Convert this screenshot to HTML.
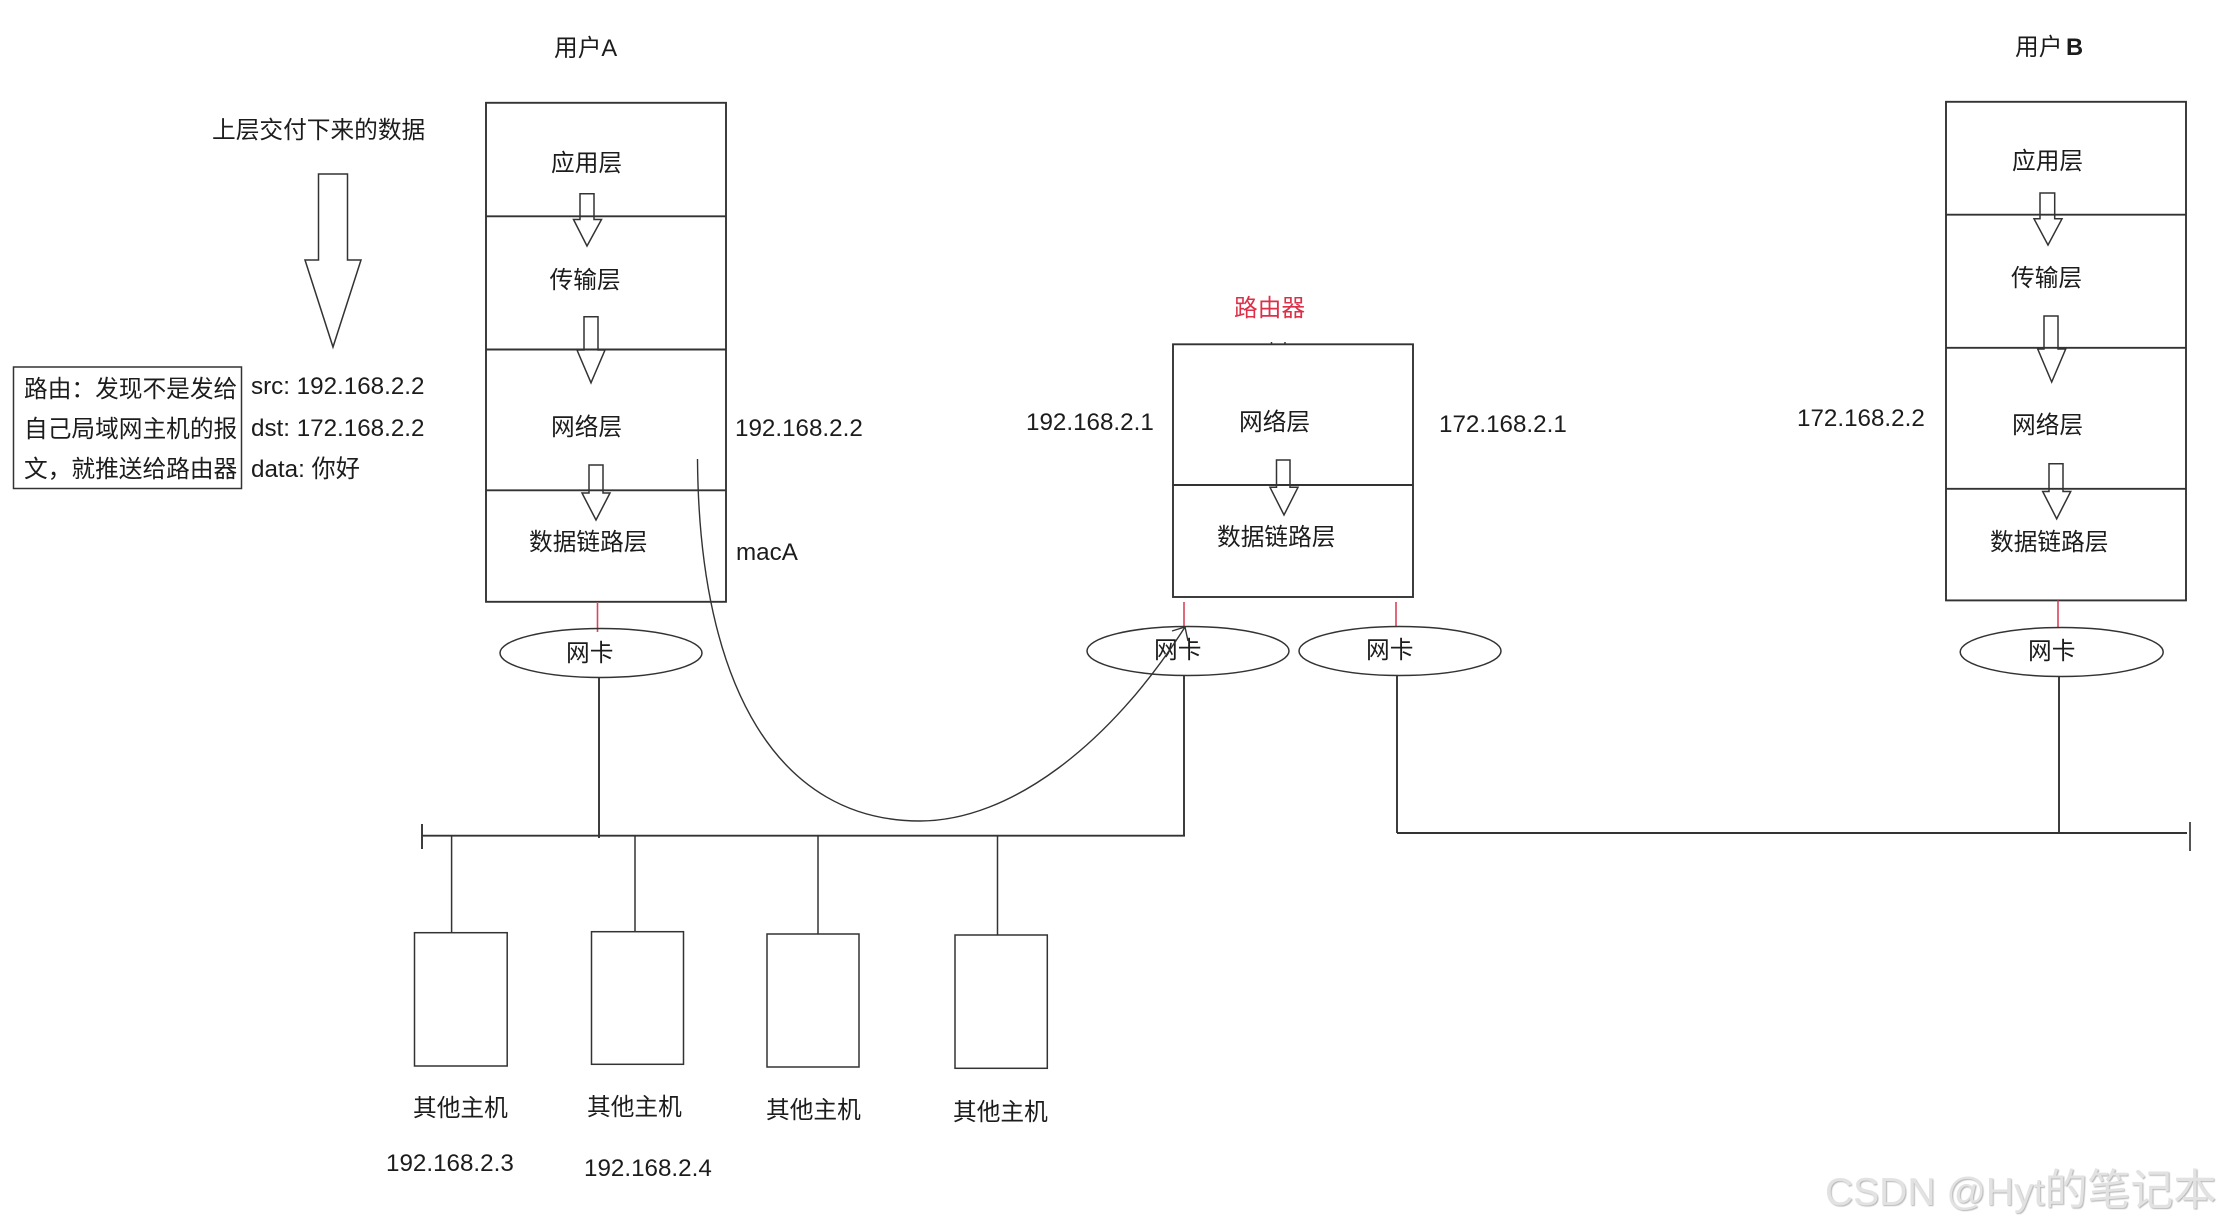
<!DOCTYPE html>
<html lang="zh">
<head>
<meta charset="utf-8">
<title>Diagram</title>
<style>
html,body{margin:0;padding:0;background:#fff;width:2223px;height:1228px;overflow:hidden}
svg{display:block;filter:blur(0.35px)}
text{font-family:"Liberation Sans","Noto Sans CJK SC",sans-serif;font-size:23.7px;fill:#1c1c1c}
.n{font-size:24.2px}
.l{stroke:#333;stroke-width:1.9;fill:none}
.t{stroke:#333;stroke-width:1.5;fill:none}
.a{stroke:#333;stroke-width:1.5;fill:#fff}
.r{stroke:#d9455a;stroke-width:1.6;fill:none}
.wm{font-size:39px;fill:#e2e2e2;filter:drop-shadow(1px 1px 0.6px #b5b5b5)}
.wc{font-size:43px}
</style>
</head>
<body>
<svg width="2223" height="1228" viewBox="0 0 2223 1228" xmlns="http://www.w3.org/2000/svg">
<rect width="2223" height="1228" fill="#fff"/>

<!-- big arrow -->
<polygon class="a" points="318.5,174 347.5,174 347.5,260 361,260 333,347 305,260 318.5,260"/>

<!-- route box -->
<rect class="t" x="13.5" y="367" width="228" height="121.5"/>
<text x="24" y="397">路由：发现不是发给</text>
<text x="24" y="437">自己局域网主机的报</text>
<text x="24" y="477">文，就推送给路由器</text>
<text class="n" x="251" y="394">src: 192.168.2.2</text>
<text class="n" x="251" y="436">dst: 172.168.2.2</text>
<text class="n" x="251" y="477">data: 你好</text>
<text x="212" y="138">上层交付下来的数据</text>

<!-- User A -->
<text x="554" y="56" style="font-size:23.7px">用户A</text>
<polygon class="a" points="580,193.7 594,193.7 594,219.5 601.5,219.5 587,246 573.5,219.5 580,219.5"/>
<polygon class="a" points="584,316.7 598,316.7 598,350 605,350 591,382.8 577,350 584,350"/>
<polygon class="a" points="589,465 603,465 603,493 610,493 596,520 582,493 589,493"/>
<rect class="l" x="486" y="102.8" width="240" height="499" />
<line class="l" x1="486" y1="216.3" x2="726" y2="216.3"/>
<line class="l" x1="486" y1="349.5" x2="726" y2="349.5"/>
<line class="l" x1="486" y1="490.3" x2="726" y2="490.3"/>
<text x="551" y="171">应用层</text>
<text x="549.5" y="288">传输层</text>
<text x="551" y="435">网络层</text>
<text x="529" y="550">数据链路层</text>
<text class="n" x="735" y="436">192.168.2.2</text>
<text class="n" x="736" y="560">macA</text>
<line class="r" x1="597.5" y1="602" x2="597.5" y2="632"/>
<ellipse class="t" cx="601" cy="653" rx="101" ry="24.5"/>
<text x="566" y="661">网卡</text>

<!-- Router -->
<text x="1234" y="316" style="fill:#dc3049">路由器</text>
<polygon class="a" points="1276.5,460 1290,460 1290,487.3 1298,487.3 1284,515 1270,487.3 1276.5,487.3"/>
<rect class="l" x="1173" y="344.3" width="240" height="252.7"/>
<line class="l" x1="1173" y1="485" x2="1413" y2="485"/>
<line class="t" x1="1271.5" y1="342" x2="1271.5" y2="345"/>
<line class="t" x1="1285" y1="342" x2="1285" y2="345"/>
<text x="1239" y="430">网络层</text>
<text x="1217" y="545">数据链路层</text>
<text class="n" x="1026" y="430">192.168.2.1</text>
<text class="n" x="1439" y="432">172.168.2.1</text>
<line class="r" x1="1184" y1="602" x2="1184" y2="627"/>
<line class="r" x1="1396" y1="602" x2="1396" y2="627"/>
<ellipse class="t" cx="1188" cy="651" rx="101" ry="24.5"/>
<ellipse class="t" cx="1400" cy="651" rx="101" ry="24.5"/>
<text x="1154" y="658">网卡</text>
<text x="1366" y="658">网卡</text>

<!-- User B -->
<text x="2015" y="55" style="font-size:23.7px">用户 <tspan dx="-3" font-weight="bold">B</tspan></text>
<polygon class="a" points="2040,193 2054.7,193 2054.7,218.8 2062,218.8 2048,245 2034,218.8 2040,218.8"/>
<polygon class="a" points="2044,316 2058,316 2058,349 2065.7,349 2051.7,382 2037.7,349 2044,349"/>
<polygon class="a" points="2049,463.8 2063,463.8 2063,491.5 2070.7,491.5 2056.7,518.8 2042.7,491.5 2049,491.5"/>
<rect class="l" x="1946" y="101.8" width="240" height="498.6"/>
<line class="l" x1="1946" y1="214.7" x2="2186" y2="214.7"/>
<line class="l" x1="1946" y1="347.8" x2="2186" y2="347.8"/>
<line class="l" x1="1946" y1="488.8" x2="2186" y2="488.8"/>
<text x="2012" y="169">应用层</text>
<text x="2011" y="286">传输层</text>
<text x="2012" y="433">网络层</text>
<text x="1990" y="550">数据链路层</text>
<text class="n" x="1797" y="426">172.168.2.2</text>
<line class="r" x1="2058" y1="600.5" x2="2058" y2="628"/>
<ellipse class="t" cx="2061.7" cy="652" rx="101.5" ry="24.5"/>
<text x="2028" y="659">网卡</text>

<!-- Buses -->
<line class="l" x1="422" y1="835.7" x2="1185" y2="835.7"/>
<line class="l" x1="422" y1="824" x2="422" y2="849"/>
<line class="l" x1="599" y1="678" x2="599" y2="838"/>
<line class="l" x1="1184" y1="675.5" x2="1184" y2="836"/>
<line class="l" x1="1397" y1="675.5" x2="1397" y2="833"/>
<line class="l" x1="1397" y1="833" x2="2187" y2="833"/>
<line class="l" x1="2059" y1="677" x2="2059" y2="833"/>
<line x1="2190" y1="822" x2="2190" y2="851" stroke="#555" stroke-width="2"/>

<line class="t" x1="451.6" y1="836" x2="451.6" y2="933"/>
<line class="t" x1="635" y1="836" x2="635" y2="932"/>
<line class="t" x1="818" y1="836" x2="818" y2="934"/>
<line class="t" x1="997.5" y1="836" x2="997.5" y2="935"/>

<rect class="t" x="414.5" y="932.7" width="92.7" height="133.3"/>
<rect class="t" x="591.5" y="931.7" width="92" height="132.6"/>
<rect class="t" x="767" y="934" width="92" height="133"/>
<rect class="t" x="955" y="935" width="92.3" height="133.3"/>

<text x="413" y="1116">其他主机</text>
<text x="587" y="1115">其他主机</text>
<text x="766" y="1118">其他主机</text>
<text x="953" y="1120">其他主机</text>
<text class="n" x="386" y="1171">192.168.2.3</text>
<text class="n" x="584" y="1176">192.168.2.4</text>

<!-- Curve -->
<path d="M697.5 459 C699 690 780 821 920 821 C1010 821 1110 745 1185 627" fill="none" stroke="#333" stroke-width="1.4"/>
<path d="M1172 631 L1185 627 L1188 641" fill="none" stroke="#333" stroke-width="1.4"/>

<!-- Watermark -->
<text class="wm" x="1825" y="1205">CSDN @Hyt<tspan class="wc">的笔记本</tspan></text>
</svg>
</body>
</html>
